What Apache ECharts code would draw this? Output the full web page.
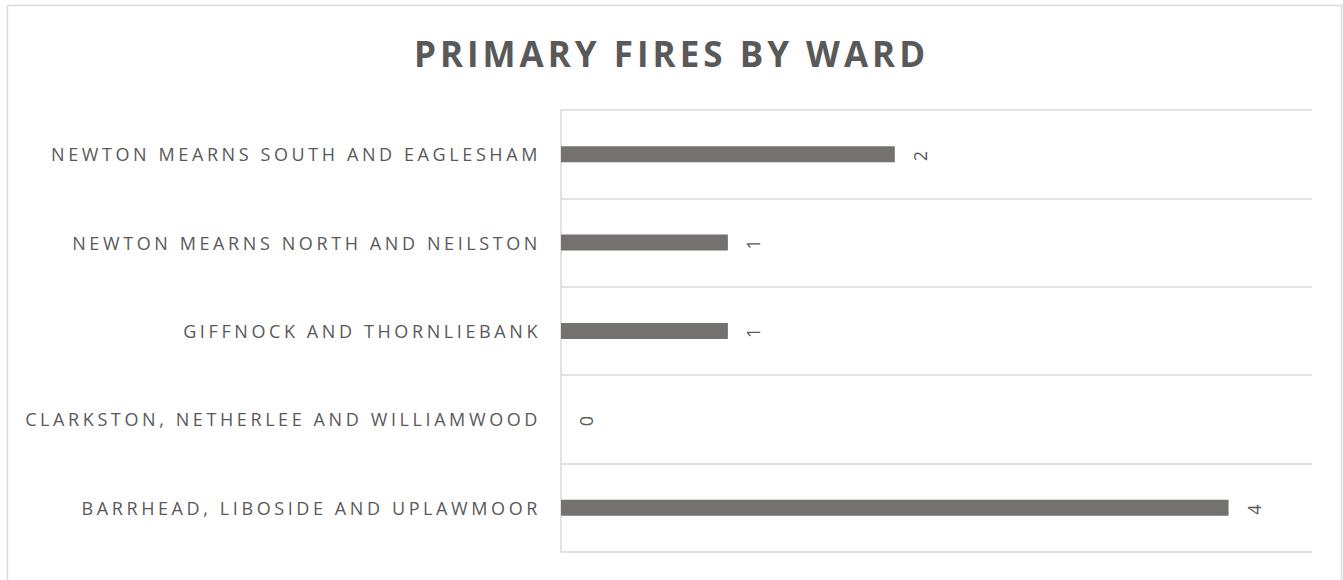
<!DOCTYPE html>
<html>
<head>
<meta charset="utf-8">
<script src="https://cdn.jsdelivr.net/npm/echarts@6/dist/echarts.min.js"></script>
<style>
  html, body { margin: 0; padding: 0; background: #fff; }
  #chart { width: 1343px; height: 580px; }
  #chart text { letter-spacing: 3.6px; }
  #chart text[style*="bold"] { letter-spacing: 4px; }
</style>
</head>
<body>
<div id="chart"></div>
<script>
const wards = [
  'BARRHEAD, LIBOSIDE AND UPLAWMOOR',
  'CLARKSTON, NETHERLEE AND WILLIAMWOOD',
  'GIFFNOCK AND THORNLIEBANK',
  'NEWTON MEARNS NORTH AND NEILSTON',
  'NEWTON MEARNS SOUTH AND EAGLESHAM'
]
const fires = [4, 0, 1, 1, 2]

const chart = echarts.init(document.getElementById('chart'), null, { renderer: 'svg' })

const option = {
  backgroundColor: '#fff',
  animation: false,
  title: {
    text: 'PRIMARY FIRES BY WARD',
    left: 'center',
    top: 31,
    textStyle: { fontFamily: 'Open Sans', fontWeight: 'bold', fontSize: 35, color: '#595959' }
  },
  graphic: [{
    type: 'rect',
    shape: { x: 7.5, y: 5.5, width: 1334, height: 600 },
    style: { fill: 'none', stroke: '#d9d9d9', lineWidth: 1.5 },
    silent: true
  }],
  grid: { left: 561, right: 31, top: 110, bottom: 28 },
  xAxis: {
    type: 'value',
    min: 0,
    max: 4.5,
    show: false
  },
  yAxis: {
    type: 'category',
    data: wards,
    axisLine: { show: true, lineStyle: { color: '#d9d9d9', width: 1.5 } },
    axisTick: { show: false },
    splitLine: { show: true, lineStyle: { color: '#d9d9d9', width: 1.5 } },
    axisLabel: {
      margin: 20,
      fontFamily: 'Open Sans',
      fontSize: 18,
      color: '#595959'
    }
  },
  series: [{
    type: 'bar',
    data: fires,
    barWidth: 16,
    itemStyle: { color: '#767171' },
    label: {
      show: true,
      position: 'right',
      rotate: 90,
      align: 'center',
      verticalAlign: 'middle',
      distance: 25,
      fontFamily: 'Open Sans',
      fontSize: 18,
      color: '#595959'
    }
  }]
}

chart.setOption(option)
</script>
</body>
</html>
